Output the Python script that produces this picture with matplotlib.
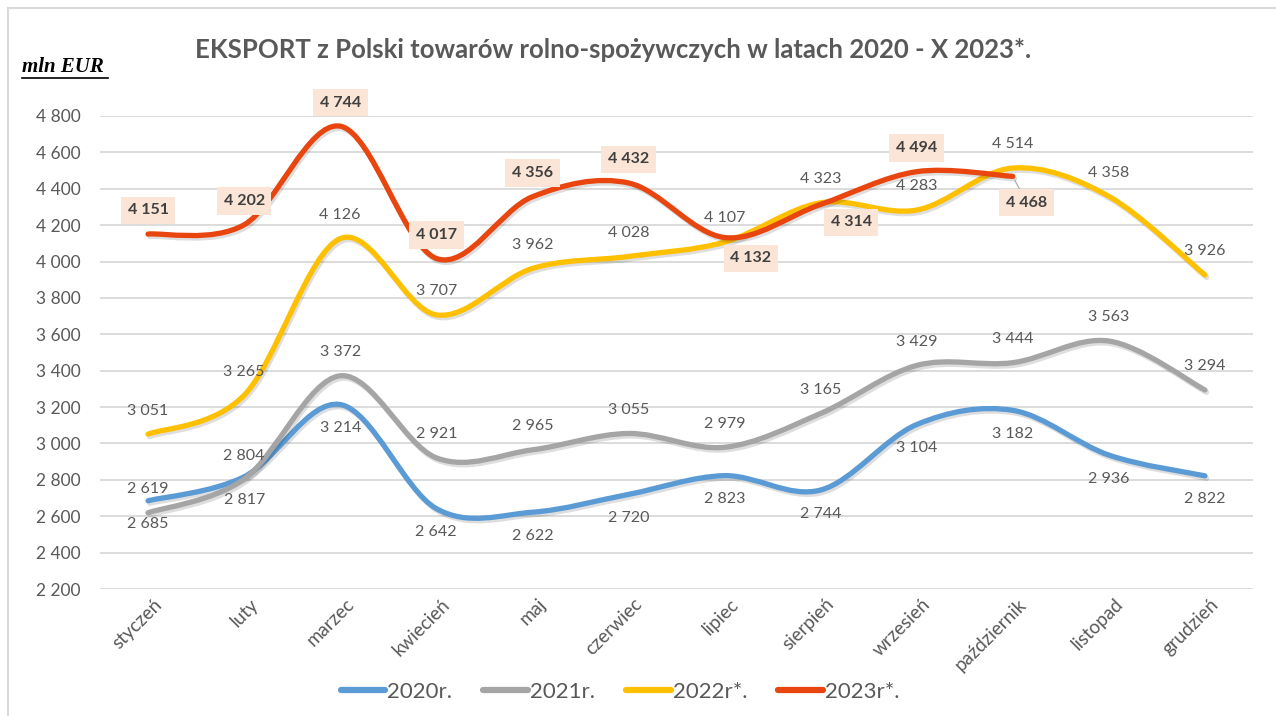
import numpy as np
import matplotlib
matplotlib.use("Agg")
import matplotlib.pyplot as plt
from matplotlib.path import Path
from matplotlib.patches import PathPatch
from matplotlib.lines import Line2D
from matplotlib.ticker import FuncFormatter
from matplotlib.transforms import ScaledTranslation
import matplotlib.patheffects as pe

plt.rcParams['font.family'] = ['Lato', 'DejaVu Sans']

# dane
miesiace = ['styczeń', 'luty', 'marzec', 'kwiecień', 'maj', 'czerwiec', 'lipiec',
            'sierpień', 'wrzesień', 'październik', 'listopad', 'grudzień']
eks_2020 = [2685, 2817, 3214, 2642, 2622, 2720, 2823, 2744, 3104, 3182, 2936, 2822]
eks_2021 = [2619, 2804, 3372, 2921, 2965, 3055, 2979, 3165, 3429, 3444, 3563, 3294]
eks_2022 = [3051, 3265, 4126, 3707, 3962, 4028, 4107, 4323, 4283, 4514, 4358, 3926]
eks_2023 = [4151, 4202, 4744, 4017, 4356, 4432, 4132, 4314, 4494, 4468]
lata = ['2020r.', '2021r.', '2022r*.', '2023r*.']
kolory = ['#5B9BD5', '#A5A5A5', '#FFC000', '#E8450F']

SZARY = '#595959'


def fmt(v):
    return f"{v:,.0f}".replace(',', ' ')


def gladka_sciezka(y):
    # wygladzona linia jak w Excelu (Bezier przez punkty)
    x = np.arange(len(y), dtype=float)
    y = np.asarray(y, dtype=float)
    pts = np.column_stack([x, y])
    verts = [pts[0]]
    codes = [Path.MOVETO]
    n = len(pts)
    for i in range(n - 1):
        p0 = pts[i - 1] if i > 0 else pts[i]
        p1 = pts[i]
        p2 = pts[i + 1]
        p3 = pts[i + 2] if i + 2 < n else pts[i + 1]
        c1 = p1 + (p2 - p0) / 6.0
        c2 = p2 - (p3 - p1) / 6.0
        verts += [c1, c2, p2]
        codes += [Path.CURVE4] * 3
    return Path(verts, codes)


fig = plt.figure(figsize=(12.76, 7.16), dpi=100)
W, H = 1276, 716
ax = fig.add_axes([100 / W, 1 - 589 / H, (1253 - 100) / W, (589 - 116) / H])

ax.set_xlim(-0.5, 11.5)
ax.set_ylim(2200, 4800)
ax.set_yticks(np.arange(2200, 4801, 200))
ax.yaxis.set_major_formatter(FuncFormatter(lambda v, p: fmt(v)))
ax.grid(axis='y', color='#D9D9D9', lw=1.3)
ax.set_axisbelow(True)
for s in ax.spines.values():
    s.set_visible(False)
ax.tick_params(axis='y', length=0, pad=14, labelsize=12.5, labelcolor=SZARY)
ax.tick_params(axis='x', length=0, pad=9, labelsize=13.5, labelcolor=SZARY)
ax.set_xticks(range(12))
ax.set_xticklabels(miesiace, rotation=45, ha='right', va='center', rotation_mode='anchor')
przes = ScaledTranslation(8 / 72, 0, fig.dpi_scale_trans)
for lab in ax.get_xticklabels():
    lab.set_transform(lab.get_transform() + przes)

serie = [eks_2020, eks_2021, eks_2022, eks_2023]
cien = [pe.SimpleLineShadow(offset=(1.2, -1.8), shadow_color='k', alpha=0.13), pe.Normal()]
for dane, kol in zip(serie, kolory):
    patch = PathPatch(gladka_sciezka(dane), fill=False, edgecolor=kol, lw=3.8,
                      capstyle='round', joinstyle='round', path_effects=cien)
    ax.add_patch(patch)

# etykiety danych (przesuniecia w punktach)
gora = 17
for i, v in enumerate(eks_2020):
    ax.annotate(fmt(v), (i, v), xytext=(0, -gora), textcoords='offset points',
                ha='center', va='center', fontsize=11.5, color=SZARY)
for i, v in enumerate(eks_2021):
    ax.annotate(fmt(v), (i, v), xytext=(0, gora), textcoords='offset points',
                ha='center', va='center', fontsize=11.5, color=SZARY)
for i, v in enumerate(eks_2022):
    ax.annotate(fmt(v), (i, v), xytext=(0, gora), textcoords='offset points',
                ha='center', va='center', fontsize=11.5, color=SZARY)

przes_2023 = {6: (19, -15), 7: (22, -13), 9: (10, -19)}
for i, v in enumerate(eks_2023):
    dx, dy = przes_2023.get(i, (0, gora))
    strz = dict(arrowstyle='-', color='#A6A6A6', lw=0.8, shrinkA=0, shrinkB=3) if i == 9 else None
    ax.annotate(fmt(v), (i, v), xytext=(dx, dy), textcoords='offset points',
                ha='center', va='center', fontsize=11.5, fontweight='bold', color='#404040',
                bbox=dict(boxstyle='square,pad=0.42', fc='#FBE5D6', ec='none'),
                arrowprops=strz)

fig.text(613 / W, 1 - 50 / H, 'EKSPORT z Polski towarów rolno-spożywczych w latach 2020 - X 2023*.',
         ha='center', va='center', fontsize=18.5, fontweight='bold', color=SZARY)

fig.text(22 / W, 1 - 67 / H, 'mln EUR', ha='left', va='center', fontsize=15,
         family='Liberation Serif', style='italic', fontweight='bold', color='black')
fig.add_artist(Line2D([22 / W, 108 / W], [1 - 78 / H, 1 - 78 / H], color='black', lw=1.2))

# ramka wykresu
fig.add_artist(Line2D([8 / W, 8 / W], [0, 1 - 8 / H], color='#D9D9D9', lw=1.5))
fig.add_artist(Line2D([8 / W, 1], [1 - 8 / H, 1 - 8 / H], color='#D9D9D9', lw=1.5))

uchwyty = [Line2D([0], [0], color=k, lw=4.5, solid_capstyle='round') for k in kolory]
leg = fig.legend(uchwyty, lata, loc='center', bbox_to_anchor=(620 / W, 1 - 692 / H), ncol=4,
                 frameon=False, fontsize=16, handlelength=2.0, handletextpad=0.1,
                 columnspacing=1.4)
for t in leg.get_texts():
    t.set_color(SZARY)

fig.savefig('out.png', dpi=100)
